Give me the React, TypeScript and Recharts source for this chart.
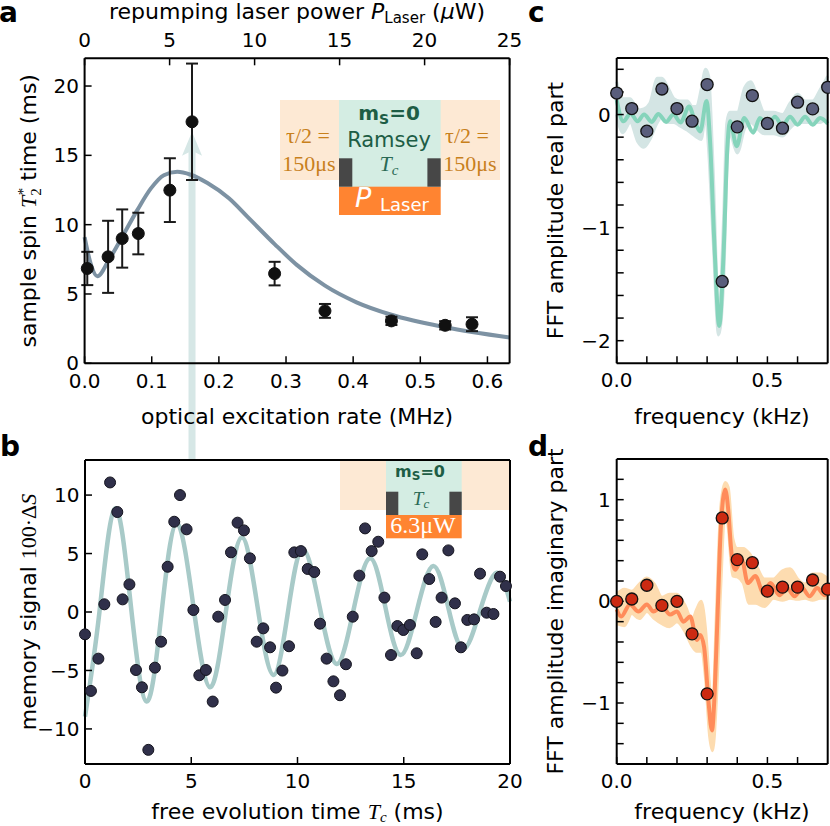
import React from 'react';
import { ComposedChart, XAxis, YAxis, Line, Scatter, Area, ErrorBar, ReferenceLine } from 'recharts';

const SANS = "'DejaVu Sans', sans-serif";
const SERIF = "'Liberation Serif', 'DejaVu Serif', serif";

// ---------------- Panel a ----------------
const aRate = [0.004, 0.035, 0.056, 0.08, 0.127, 0.16, 0.283, 0.358, 0.457, 0.537, 0.577];
const aT2 = [6.84, 7.68, 9.0, 9.36, 12.49, 17.42, 6.47, 3.78, 3.06, 2.74, 2.82];
const aErr = [1.2, 2.6, 2.1, 1.5, 2.3, 4.2, 0.85, 0.5, 0.3, 0.3, 0.5];
const aFitRate = [0, 0.009, 0.019, 0.036, 0.056, 0.0785, 0.0985, 0.118, 0.138, 0.158, 0.183, 0.215, 0.242, 0.283, 0.316, 0.358, 0.405, 0.457, 0.537, 0.633];
const aFitT2 = [9.1, 7.2, 6.28, 7.44, 9.12, 11.05, 12.6, 13.57, 13.81, 13.6, 13.0, 11.9, 10.6, 8.6, 7.1, 5.6, 4.4, 3.5, 2.6, 1.86];
const aRateTicks = [0, 0.1, 0.2, 0.3, 0.4, 0.5, 0.6];
const aPowerTicks = [0, 5, 10, 15, 20, 25];
const aPowerRange = [0, 25];
const aT2Ticks = [0, 5, 10, 15, 20];
const ARROW_RATE = 0.16;
const ARROW_TOP = 16.7;
const ARROW_BOTTOM = -7;

// ---------------- Panel b ----------------
const bTime = [0, 0.28, 0.63, 0.91, 1.18, 1.52, 1.77, 2.09, 2.4, 2.68, 2.98, 3.29, 3.58, 3.89, 4.2, 4.47, 4.78, 5.1, 5.38, 5.69, 6.01, 6.27, 6.59, 6.87, 7.18, 7.48, 7.76, 8.08, 8.39, 8.71, 8.99, 9.29, 9.6, 9.85, 10.16, 10.48, 10.79, 11.06, 11.37, 11.69, 12.0, 12.28, 12.6, 12.91, 13.18, 13.49, 13.8, 14.09, 14.4, 14.7, 14.98, 15.29, 15.61, 15.87, 16.2, 16.5, 16.78, 17.1, 17.41, 17.69, 17.99, 18.31, 18.59, 18.9, 19.22, 19.53, 19.81];
const bSignal = [-1.91, -6.75, -3.99, 0.66, 11.08, 8.55, 1.08, 2.36, -4.96, -6.44, -11.79, -4.76, -2.54, 3.87, 7.72, 10.0, 7.07, 0.17, -5.41, -4.96, -7.66, -0.4, 1.03, 5.1, 7.64, 6.98, 4.59, -2.54, -1.4, -3.02, -6.47, -5.01, -2.93, 5.1, 5.21, 3.68, 3.42, -1.0, -3.99, -5.93, -7.12, -4.47, -0.4, 3.11, 7.15, 5.21, 6.01, 1.23, -3.68, -1.2, -1.54, -1.11, -3.53, 4.93, 2.82, -0.85, 1.23, 5.27, 0.74, -3.02, -0.68, -0.63, 3.28, -0.06, -0.17, 3.02, 2.22];
const bFitTime = [0, 0.68, 1.41, 2.155, 2.9, 3.605, 4.31, 5.095, 5.88, 6.625, 7.37, 8.115, 8.86, 9.55, 10.24, 11.04, 11.84, 12.625, 13.41, 14.13, 14.85, 15.62, 16.39, 17.095, 17.8, 18.585, 19.37, 20];
const bFitSignal = [-8.95, 0.0, 8.86, 0.6, -7.66, -0.04, 7.58, 0.57, -6.44, -0.03, 6.38, 0.5, -5.38, 0.0, 5.38, 0.47, -4.44, 0.08, 4.59, 0.46, -3.68, 0.13, 3.93, 0.39, -3.16, 0.1, 3.36, 0.88];
const bTimeTicks = [0, 5, 10, 15, 20];
const bSignalTicks = [-10, -5, 0, 5, 10];

// ---------------- Panels c, d ----------------
const fftFreq = [0, 0.05, 0.1, 0.15, 0.2, 0.25, 0.3, 0.35, 0.4, 0.45, 0.5, 0.55, 0.6, 0.65, 0.7];
const cReal = [0.19, 0.053, -0.147, 0.226, 0.053, -0.059, 0.265, -1.476, -0.109, 0.168, -0.079, -0.121, 0.109, 0.05, 0.241];
const cLineFreq = [0, 0.022, 0.046, 0.069, 0.091, 0.116, 0.138, 0.164, 0.188, 0.212, 0.24, 0.262, 0.277, 0.298, 0.31, 0.325, 0.34, 0.355, 0.367, 0.376, 0.398, 0.423, 0.453, 0.475, 0.5, 0.525, 0.55, 0.575, 0.6, 0.625, 0.65, 0.675, 0.7];
const cLineVal = [0.13, -0.06, 0.01, -0.06, 0.0, -0.065, 0.005, -0.065, 0.0, -0.07, 0.07, -0.08, -0.15, 0.12, -0.25, -1.2, -1.87, -1.2, -0.3, -0.06, -0.28, -0.03, -0.16, -0.03, -0.1, -0.02, -0.1, -0.02, -0.09, -0.02, -0.09, -0.03, -0.08];
const cBandFreq = [0, 0.02, 0.045, 0.07, 0.09, 0.11, 0.135, 0.15, 0.17, 0.19, 0.21, 0.235, 0.25, 0.265, 0.28, 0.295, 0.305, 0.32, 0.338, 0.355, 0.365, 0.375, 0.4, 0.425, 0.445, 0.465, 0.49, 0.52, 0.55, 0.575, 0.6, 0.625, 0.65, 0.675, 0.7];
const cBandLo = [0.0, -0.16, -0.07, -0.24, -0.29, -0.22, -0.07, -0.02, -0.07, -0.07, -0.1, -0.14, -0.17, -0.2, -0.22, -0.02, -0.32, -1.12, -1.95, -1.47, -0.52, -0.17, -0.34, -0.12, -0.07, -0.12, -0.17, -0.17, -0.19, -0.12, -0.07, -0.07, -0.07, -0.07, -0.02];
const cBandHi = [0.29, 0.14, 0.14, 0.04, 0.05, 0.1, 0.32, 0.32, 0.24, 0.14, 0.12, 0.12, 0.07, 0.07, 0.22, 0.4, 0.34, -0.48, -1.73, -0.88, -0.08, 0.02, 0.02, 0.24, 0.29, 0.17, 0.02, 0.02, 0.0, 0.1, 0.18, 0.12, 0.12, 0.22, 0.34];

const dImag = [0.0, 0.023, 0.158, -0.04, 0.0, -0.32, -0.91, 0.82, 0.41, 0.38, 0.1, 0.14, 0.14, 0.21, 0.12];
const dLineFreq = [0, 0.015, 0.044, 0.072, 0.1, 0.122, 0.15, 0.177, 0.2, 0.221, 0.244, 0.266, 0.277, 0.29, 0.305, 0.316, 0.325, 0.335, 0.345, 0.36, 0.37, 0.38, 0.393, 0.415, 0.435, 0.46, 0.487, 0.51, 0.54, 0.565, 0.59, 0.615, 0.64, 0.665, 0.69, 0.7];
const dLineVal = [-0.08, -0.15, -0.03, -0.1, -0.03, -0.1, -0.05, -0.13, -0.1, -0.2, -0.15, -0.38, -0.33, -0.45, -1.0, -1.27, -0.9, -0.1, 0.7, 1.1, 0.9, 0.5, 0.31, 0.41, 0.18, 0.25, 0.08, 0.18, 0.06, 0.13, 0.05, 0.13, 0.05, 0.13, 0.06, 0.08];
const dBandFreq = [0, 0.025, 0.05, 0.075, 0.1, 0.125, 0.15, 0.175, 0.2, 0.225, 0.25, 0.265, 0.28, 0.295, 0.308, 0.318, 0.33, 0.345, 0.36, 0.37, 0.385, 0.4, 0.42, 0.44, 0.46, 0.49, 0.52, 0.55, 0.575, 0.6, 0.625, 0.65, 0.675, 0.7];
const dBandLo = [-0.22, -0.24, -0.12, -0.17, -0.1, -0.17, -0.22, -0.25, -0.2, -0.29, -0.44, -0.49, -0.49, -0.77, -1.32, -1.47, -1.02, 0.13, 0.93, 0.73, 0.25, 0.24, 0.18, -0.02, -0.02, -0.05, 0.03, 0.01, 0.03, 0.02, 0.03, 0.01, 0.03, 0.03];
const dBandHi = [0.07, 0.12, 0.1, 0.17, 0.23, 0.17, 0.04, 0.07, 0.07, -0.03, -0.18, -0.08, 0.0, -0.28, -0.83, -1.08, -0.18, 0.92, 1.17, 1.12, 0.62, 0.52, 0.52, 0.47, 0.37, 0.22, 0.22, 0.3, 0.32, 0.22, 0.17, 0.27, 0.27, 0.22];

const freqTicks = [0, 0.1, 0.2, 0.3, 0.4, 0.5, 0.6];
const cTicks = [-2, -1.8, -1.6, -1.4, -1.2, -1, -0.8, -0.6, -0.4, -0.2, 0, 0.2, 0.4];
const dTicks = [-1.4, -1.2, -1, -0.8, -0.6, -0.4, -0.2, 0, 0.2, 0.4, 0.6, 0.8, 1, 1.2];

// ---------------- helpers ----------------
const zip = (xs: number[], ys: number[]) => xs.map((x, i) => ({ x, y: ys[i] }));
const band = (xs: number[], lo: number[], hi: number[]) => xs.map((x, i) => ({ x, range: [lo[i], hi[i]] }));
const minus = (v: number) => (v < 0 ? '\u2212' : '') + Math.abs(v);
const intOnly = (v: number) => (Math.abs(v - Math.round(v)) < 1e-9 ? minus(Math.round(v)) : '');
const freqFmt = (v: number) => (Math.abs(v) < 1e-9 ? '0.0' : Math.abs(v - 0.5) < 1e-9 ? '0.5' : '');

const axisLine = { stroke: '#000', strokeWidth: 2 };
const tickLine = { stroke: '#000', strokeWidth: 1.5 };
const tickStyle = { fill: '#000', fontSize: 20, fontFamily: SANS };
const NoTick = () => <g />;
const NoShape = () => <g />;
const TS = -7;

const ArrowShape = (p: any) => {
  const top = Math.min(p.y1, p.y2);
  const bottom = Math.max(p.y1, p.y2);
  const x = p.x1;
  const c = '#d6e7e6';
  return (
    <g>
      <line x1={x} x2={x} y1={top + 18} y2={bottom} stroke={c} strokeWidth={7} />
      <polygon points={`${x - 10},${top + 24} ${x},${top} ${x + 10},${top + 24} ${x},${top + 19}`} fill={c} />
    </g>
  );
};

const dot = (r: number, fill: string, stroke: string, sw: number) => (p: any) => (
  <circle cx={p.cx} cy={p.cy} r={r} fill={fill} stroke={stroke} strokeWidth={sw} />
);

function PanelA() {
  const pts = aRate.map((x, i) => ({ x, y: aT2[i], err: aErr[i] }));
  const fit = zip(aFitRate, aFitT2);
  const powerAnchor = aPowerRange.map((x) => ({ x, y: 0 }));
  return (
    <ComposedChart width={560} height={480} margin={{ top: 18.3, right: 49.4, bottom: 76.7, left: 24.6 }}>
      <XAxis xAxisId="rate" type="number" dataKey="x" domain={[0, 0.633]} ticks={aRateTicks} orientation="bottom" height={40}
        axisLine={axisLine} tickLine={tickLine} tickSize={TS} tickMargin={17.5} tick={tickStyle} tickFormatter={(v: number) => v.toFixed(1)} interval={0} />
      <XAxis xAxisId="power" type="number" dataKey="x" domain={[0, 25]} ticks={aPowerTicks} orientation="top" height={40}
        axisLine={axisLine} tickLine={tickLine} tickSize={TS} tickMargin={18.6} tick={tickStyle} interval={0} />
      <YAxis yAxisId="t2" type="number" domain={[0, 22]} ticks={aT2Ticks} width={60}
        axisLine={axisLine} tickLine={tickLine} tickSize={TS} tickMargin={12.6} tick={tickStyle} interval={0} />
      <YAxis yAxisId="r" type="number" orientation="right" domain={[0, 22]} ticks={aT2Ticks} width={1}
        axisLine={axisLine} tickLine={tickLine} tickSize={TS} tick={NoTick} interval={0} />
      <ReferenceLine xAxisId="rate" yAxisId="t2" ifOverflow="visible"
        segment={[{ x: ARROW_RATE, y: ARROW_TOP }, { x: ARROW_RATE, y: ARROW_BOTTOM }]} shape={ArrowShape} />
      <Scatter xAxisId="power" yAxisId="t2" data={powerAnchor} dataKey="y" shape={NoShape} isAnimationActive={false} />
      <Line xAxisId="rate" yAxisId="t2" data={fit} dataKey="y" type="monotone" stroke="#7d92a3" strokeWidth={4}
        dot={false} activeDot={false} isAnimationActive={false} />
      <Scatter xAxisId="rate" yAxisId="t2" data={pts} dataKey="y" shape={dot(6, '#111', '#111', 1)} isAnimationActive={false}>
        <ErrorBar dataKey="err" direction="y" width={6} stroke="#1a1a1a" strokeWidth={2} />
      </Scatter>
    </ComposedChart>
  );
}

function PanelB() {
  const pts = zip(bTime, bSignal);
  const fit = zip(bFitTime, bFitSignal);
  return (
    <ComposedChart width={560} height={426} margin={{ top: 59, right: 49, bottom: 22, left: 25 }}>
      <XAxis xAxisId="t" type="number" dataKey="x" domain={[0, 20]} ticks={bTimeTicks} orientation="bottom" height={40}
        axisLine={axisLine} tickLine={tickLine} tickSize={TS} tickMargin={16.8} tick={tickStyle} interval={0} />
      <XAxis xAxisId="top" type="number" dataKey="x" domain={[0, 20]} ticks={bTimeTicks} orientation="top" height={1}
        axisLine={axisLine} tickLine={tickLine} tickSize={TS} tick={NoTick} interval={0} />
      <YAxis yAxisId="s" type="number" domain={[-13, 13]} ticks={bSignalTicks} width={60}
        axisLine={axisLine} tickLine={tickLine} tickSize={TS} tickMargin={12.6} tick={tickStyle} tickFormatter={minus} interval={0} />
      <YAxis yAxisId="r" type="number" orientation="right" domain={[-13, 13]} ticks={bSignalTicks} width={1}
        axisLine={axisLine} tickLine={tickLine} tickSize={TS} tick={NoTick} interval={0} />
      <Line xAxisId="t" yAxisId="s" data={fit} dataKey="y" type="natural" stroke="#a8cac8" strokeWidth={4.5}
        dot={false} activeDot={false} isAnimationActive={false} />
      <Scatter xAxisId="t" yAxisId="s" data={pts} dataKey="y" shape={dot(5.5, '#30304a', '#15151f', 1)} isAnimationActive={false} />
    </ComposedChart>
  );
}

function FftPanel(props: {
  height: number; mTop: number; mBottom: number; domain: [number, number]; yTicks: number[];
  vals: number[]; lineF: number[]; lineV: number[]; bandF: number[]; bandLo: number[]; bandHi: number[];
  lineColor: string; bandColor: string; ptFill: string;
}) {
  const pts = zip(fftFreq, props.vals);
  const ln = zip(props.lineF, props.lineV);
  const bd = band(props.bandF, props.bandLo, props.bandHi);
  return (
    <ComposedChart width={300} height={props.height} margin={{ top: props.mTop, right: 1.3, bottom: props.mBottom, left: 26.7 }}>
      <XAxis xAxisId="f" type="number" dataKey="x" domain={[0, 0.7]} ticks={freqTicks} orientation="bottom" height={40}
        axisLine={axisLine} tickLine={tickLine} tickSize={TS} tickMargin={16.8} tick={tickStyle} tickFormatter={freqFmt} interval={0} />
      <XAxis xAxisId="top" type="number" dataKey="x" domain={[0, 0.7]} ticks={freqTicks} orientation="top" height={1}
        axisLine={axisLine} tickLine={tickLine} tickSize={TS} tick={NoTick} interval={0} />
      <YAxis yAxisId="v" type="number" domain={props.domain} ticks={props.yTicks} width={60}
        axisLine={axisLine} tickLine={tickLine} tickSize={TS} tickMargin={13} tick={tickStyle} tickFormatter={intOnly} interval={0} />
      <YAxis yAxisId="r" type="number" orientation="right" domain={props.domain} ticks={props.yTicks} width={1}
        axisLine={axisLine} tickLine={tickLine} tickSize={TS} tick={NoTick} interval={0} />
      <Area xAxisId="f" yAxisId="v" data={bd} dataKey="range" type="monotone" stroke={props.bandColor} strokeWidth={3} fill={props.bandColor}
        fillOpacity={1} isAnimationActive={false} activeDot={false} />
      <Line xAxisId="f" yAxisId="v" data={ln} dataKey="y" type="monotone" stroke={props.lineColor} strokeWidth={4}
        dot={false} activeDot={false} isAnimationActive={false} />
      <Scatter xAxisId="f" yAxisId="v" data={pts} dataKey="y" shape={dot(6, props.ptFill, '#111', 1.3)} isAnimationActive={false} />
    </ComposedChart>
  );
}

function Overlay() {
  const lo = '#fde9d4', teal = '#d4ede3', dark = '#474747', orange = '#ff8431';
  const green = '#1d5d45', tau = '#c8801c';
  return (
    <svg width={830} height={826} style={{ position: 'absolute', left: 0, top: 0, pointerEvents: 'none' }} fontFamily={SANS}>
      {/* inset a */}
      <rect x={280} y={100} width={220} height={80} fill={lo} />
      <rect x={339} y={100} width={101.7} height={87} fill={teal} />
      <rect x={339} y={186.7} width={101.7} height={28.3} fill={orange} />
      <rect x={339} y={158.3} width={13.3} height={28.4} fill={dark} />
      <rect x={427.4} y={158.3} width={13.3} height={28.4} fill={dark} />
      <text x={389} y={120} textAnchor="middle" fontWeight="bold" fontSize={20} fill={green}>m<tspan fontSize={14} dy={4}>S</tspan><tspan dy={-4}>=0</tspan></text>
      <text x={389} y={147} textAnchor="middle" fontSize={21} fill={green}>Ramsey</text>
      <text x={389} y={171} textAnchor="middle" fontSize={22} fill="#2a6a55" fontFamily={SERIF} fontStyle="italic">T<tspan fontSize={15} dy={4}>c</tspan></text>
      <text x={308} y={143} textAnchor="middle" fontSize={22} fill={tau} fontFamily={SERIF}>τ/2 =</text>
      <text x={309} y={171} textAnchor="middle" fontSize={22} fill={tau} fontFamily={SERIF}>150μs</text>
      <text x={467} y={143} textAnchor="middle" fontSize={22} fill={tau} fontFamily={SERIF}>τ/2 =</text>
      <text x={470} y={171} textAnchor="middle" fontSize={22} fill={tau} fontFamily={SERIF}>150μs</text>
      <text x={355} y={207} fontSize={27} fill="#fff" fontStyle="italic">P</text>
      <text x={380} y={210.5} fontSize={18} fill="#fff">Laser</text>

      {/* inset b */}
      <rect x={340} y={461} width={169} height={49} fill={lo} />
      <rect x={386} y={461} width={75.7} height={54} fill={teal} />
      <rect x={386} y={515} width={75.7} height={23.3} fill={orange} />
      <rect x={386} y={491.7} width={12.3} height={23.3} fill={dark} />
      <rect x={449.4} y={491.7} width={12.3} height={23.3} fill={dark} />
      <text x={420} y={477} textAnchor="middle" fontWeight="bold" fontSize={16} fill={green}>m<tspan fontSize={12} dy={3}>S</tspan><tspan dy={-3}>=0</tspan></text>
      <text x={421} y={505} textAnchor="middle" fontSize={19} fill="#2a6a55" fontFamily={SERIF} fontStyle="italic">T<tspan fontSize={13} dy={3}>c</tspan></text>
      <text x={423} y={533} textAnchor="middle" fontSize={24} fill="#fff" fontFamily={SERIF}>6.3μW</text>

      {/* panel letters */}
      <text x={-1} y={22} fontWeight="bold" fontSize={28}>a</text>
      <text x={0} y={456} fontWeight="bold" fontSize={28}>b</text>
      <text x={528} y={22} fontWeight="bold" fontSize={28}>c</text>
      <text x={528} y={456} fontWeight="bold" fontSize={28}>d</text>

      {/* axis titles */}
      <text x={297} y={19} textAnchor="middle" fontSize={22}>repumping laser power <tspan fontStyle="italic">P</tspan><tspan fontSize={15} dy={4}>Laser</tspan><tspan dy={-4}> (</tspan><tspan fontStyle="italic">μ</tspan>W)</text>
      <text x={297} y={424} textAnchor="middle" fontSize={22}>optical excitation rate (MHz)</text>
      <text x={297.5} y={819} textAnchor="middle" fontSize={22}>free evolution time <tspan fontFamily={SERIF} fontStyle="italic">T</tspan><tspan fontFamily={SERIF} fontStyle="italic" fontSize={15} dy={3}>c</tspan><tspan dy={-3}> (ms)</tspan></text>
      <text x={722} y={424} textAnchor="middle" fontSize={22}>frequency (kHz)</text>
      <text x={722} y={819} textAnchor="middle" fontSize={22}>frequency (kHz)</text>
      <text transform="translate(36,210.8) rotate(-90)" textAnchor="middle" fontSize={22}>sample spin <tspan fontFamily={SERIF} fontStyle="italic">T</tspan><tspan fontFamily={SERIF} fontSize={15} dy={5}>2</tspan><tspan fontFamily={SERIF} fontSize={15} dx={-7} dy={-13}>*</tspan><tspan dy={8}> time (ms)</tspan></text>
      <text transform="translate(36,612) rotate(-90)" textAnchor="middle" fontSize={22}>memory signal <tspan fontFamily={SERIF}>100·Δ</tspan><tspan fontFamily={SERIF} fontStyle="italic">S</tspan></text>
      <text transform="translate(563,210.6) rotate(-90)" textAnchor="middle" fontSize={22}>FFT amplitude real part</text>
      <text transform="translate(563,611.5) rotate(-90)" textAnchor="middle" fontSize={22}>FFT amplitude imaginary part</text>
    </svg>
  );
}

export default function App() {
  return (
    <div style={{ position: 'absolute', left: 0, top: 0, width: 830, height: 826, background: '#fff', overflow: 'hidden', fontFamily: SANS }}>
      <div style={{ position: 'absolute', left: 0, top: 0 }}><PanelA /></div>
      <div style={{ position: 'absolute', left: 530, top: 0 }}>
        <FftPanel height={480} mTop={57} mBottom={76.7} domain={[-2.2, 0.5]} yTicks={cTicks} vals={cReal}
          lineF={cLineFreq} lineV={cLineVal} bandF={cBandFreq} bandLo={cBandLo} bandHi={cBandHi}
          lineColor="#85d4bb" bandColor="#d4e5e4" ptFill="#5a5e7c" />
      </div>
      <div style={{ position: 'absolute', left: 0, top: 400 }}><PanelB /></div>
      <div style={{ position: 'absolute', left: 530, top: 400 }}>
        <FftPanel height={426} mTop={58} mBottom={22} domain={[-1.6, 1.4]} yTicks={dTicks} vals={dImag}
          lineF={dLineFreq} lineV={dLineVal} bandF={dBandFreq} bandLo={dBandLo} bandHi={dBandHi}
          lineColor="#ff8c5a" bandColor="#fddcb0" ptFill="#cc2a12" />
      </div>
      <Overlay />
    </div>
  );
}
